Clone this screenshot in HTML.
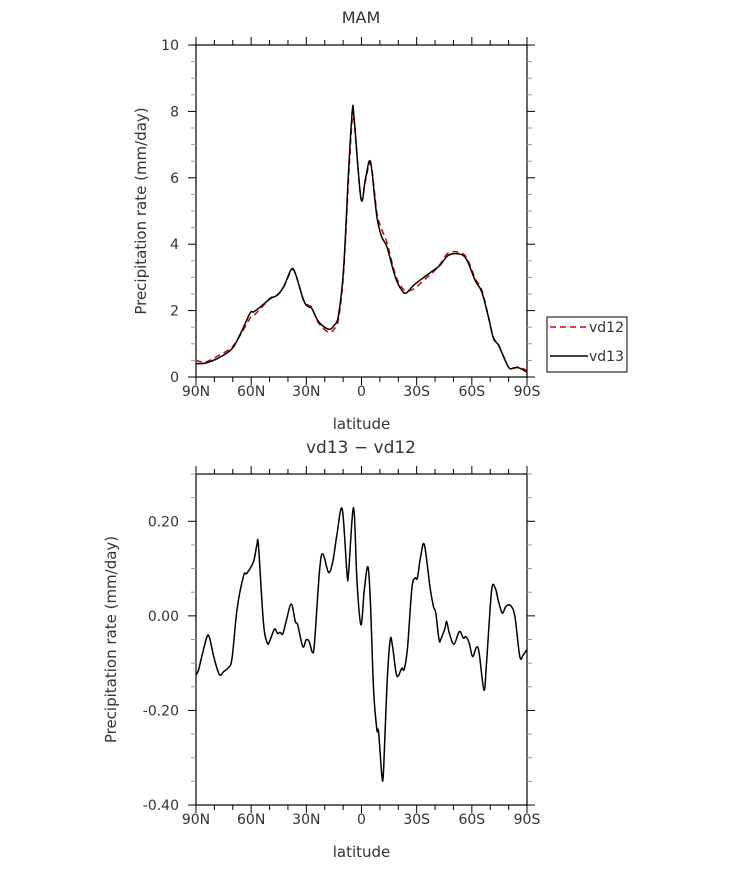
<!DOCTYPE html>
<html><head><meta charset="utf-8"><style>
body{margin:0;background:#fff;}
svg text{font-family:"DejaVu Sans","Liberation Sans",sans-serif;fill:#333;}
</style></head><body>
<svg id="c" width="733" height="869" xmlns="http://www.w3.org/2000/svg"></svg>
<script>
const latTop=[-90,-85,-78.6,-70.4,-65,-60.5,-58.7,-55,-49.6,-46,-42.4,-38.2,-36,-31.5,-28.8,-27,-23.3,-17.9,-14.8,-12.5,-9.8,-7,-5,-4,-0.3,2,4.2,5.6,8.4,11,13.8,18.3,21.9,24.3,28.3,34.6,39.1,42.8,47.3,53.6,57.3,61.8,65.4,69,71.8,74.5,79.9,82.6,85.3,90];
const vd13=[0.40,0.42,0.55,0.85,1.4,1.93,1.96,2.11,2.36,2.46,2.71,3.24,3.12,2.31,2.11,2.06,1.66,1.44,1.56,1.86,3.22,6.23,8.02,7.8,5.38,5.93,6.50,6.23,4.82,4.22,3.92,3.02,2.61,2.53,2.76,3.03,3.21,3.37,3.67,3.70,3.52,2.91,2.56,1.81,1.16,0.96,0.30,0.27,0.28,0.15];
const vd12=[0.50,0.45,0.62,0.90,1.35,1.78,1.85,2.05,2.38,2.45,2.70,3.20,3.13,2.32,2.16,2.09,1.62,1.35,1.45,1.75,3.10,6.00,7.80,7.70,5.40,5.88,6.40,6.27,4.95,4.45,4.05,3.10,2.70,2.60,2.65,2.95,3.17,3.40,3.74,3.75,3.58,2.98,2.62,1.83,1.18,0.98,0.30,0.26,0.30,0.20];
const latBot=[-90,-88.6,-86.7,-84,-82.6,-80.4,-77.7,-76.4,-75,-72.3,-70.4,-67.7,-64.1,-62.3,-58.7,-56.9,-56,-53.3,-51.1,-49.7,-47.3,-45.7,-44.3,-42.8,-41,-38.2,-36,-34.7,-31.9,-30.1,-28.5,-26.6,-25.5,-22.8,-21,-17.9,-15.6,-13.4,-10.5,-7.9,-7,-4.3,-2.5,-0.3,1.5,3.5,4.8,6.6,8.4,9.3,11.1,12,13.8,15.6,16.9,19.2,21.9,23.2,25,27.4,29.2,30.4,32.2,34.2,37.3,39.1,40.4,42.2,43.2,45.4,46.3,47.8,50.3,53.2,55.4,56.8,58.6,60.4,62.6,64,66.6,68,70.7,72.7,74.3,76.5,78.5,81,83.4,86.1,87.9,90];
const diff=[-0.125,-0.114,-0.083,-0.044,-0.047,-0.086,-0.121,-0.125,-0.118,-0.109,-0.090,0.013,0.085,0.090,0.115,0.150,0.147,-0.016,-0.058,-0.051,-0.028,-0.037,-0.035,-0.038,-0.012,0.025,-0.012,-0.019,-0.065,-0.051,-0.054,-0.078,-0.054,0.097,0.131,0.092,0.115,0.171,0.226,0.090,0.092,0.229,0.076,-0.019,0.055,0.104,0.034,-0.157,-0.241,-0.245,-0.339,-0.326,-0.150,-0.051,-0.065,-0.127,-0.111,-0.113,-0.068,0.059,0.080,0.080,0.126,0.150,0.059,0.020,0.006,-0.051,-0.049,-0.026,-0.012,-0.037,-0.060,-0.033,-0.047,-0.044,-0.058,-0.086,-0.066,-0.079,-0.157,-0.100,0.052,0.059,0.034,0.006,0.020,0.022,-0.001,-0.086,-0.083,-0.071];
const xTickVals=[-90,-60,-30,0,30,60,90];
const xTickLabels=["90N","60N","30N","0","30S","60S","90S"];
const topYTicks=[0,2,4,6,8,10];
const botYTicks=[-0.4,-0.2,0,0.2];
const botYLabels=["-0.40","-0.20","0.00","0.20"];

const svg=document.getElementById('c');
const NS="http://www.w3.org/2000/svg";
function mk(tag,attrs,parent){const e=document.createElementNS(NS,tag);for(const k in attrs)e.setAttribute(k,attrs[k]);(parent||svg).appendChild(e);return e;}
const L=196,R=527;
const xs=v=>L+(v+90)/180*(R-L);
function panel(top,bot,ymin,ymax,majors,labels,minorStep,name,titleX){
  const ys=v=>bot-(v-ymin)/(ymax-ymin)*(bot-top);
  const g=mk('g',{});
  
  
  mk('rect',{x:L,y:top,width:R-L,height:bot-top,fill:'none',stroke:'#000','stroke-width':1.2},g);
  for(let v=-90;v<=90;v+=10){const maj=v%30===0;const len=maj?8:5;const x=xs(v);
    mk('line',{x1:x,x2:x,y1:bot,y2:bot+len,stroke:'#000'},g);
    mk('line',{x1:x,x2:x,y1:top,y2:top-len,stroke:'#000'},g);}
  for(let v=ymin;v<=ymax+1e-9;v+=minorStep){const y=ys(v);const maj=majors.some(m=>Math.abs(m-v)<1e-6);const len=maj?8:5;
    mk('line',{x1:L,x2:L-len,y1:y,y2:y,stroke:maj?'#000':'#999'},g);
    mk('line',{x1:R,x2:R+len,y1:y,y2:y,stroke:maj?'#000':'#999'},g);}
  xTickVals.forEach((v,i)=>{const t=mk('text',{x:xs(v),y:bot+19,'text-anchor':'middle','font-size':14},g);t.textContent=xTickLabels[i];
    
    });
  majors.forEach((v,i)=>{const t=mk('text',{x:L-17,y:ys(v)+5,'text-anchor':'end','font-size':14},g);t.textContent=labels[i];
    
    });
  const xt=mk('text',{x:(L+R)/2,y:bot+52,'text-anchor':'middle','font-size':15},g);xt.textContent='latitude';
  
  
  const cy=(top+bot)/2;
  const yt=mk('text',{x:titleX,y:cy,'text-anchor':'middle','font-size':15,transform:`rotate(-90 ${titleX} ${cy})`},g);yt.textContent='Precipitation rate (mm/day)';
  
  
  return ys;
}
function line(lat,vals,ys,color,dash,name){
  const P=lat.map((v,i)=>[xs(v),ys(vals[i])]);
  let d='M'+P[0][0].toFixed(1)+','+P[0][1].toFixed(1);
  for(let i=0;i<P.length-1;i++){
    const p0=P[Math.max(0,i-1)],p1=P[i],p2=P[i+1],p3=P[Math.min(P.length-1,i+2)];
    const c1=[p1[0]+(p2[0]-p0[0])/6,p1[1]+(p2[1]-p0[1])/6];
    const c2=[p2[0]-(p3[0]-p1[0])/6,p2[1]-(p3[1]-p1[1])/6];
    d+='C'+c1[0].toFixed(1)+','+c1[1].toFixed(1)+' '+c2[0].toFixed(1)+','+c2[1].toFixed(1)+' '+p2[0].toFixed(1)+','+p2[1].toFixed(1);
  }
  const p=mk('path',{d:d,fill:'none',stroke:color,'stroke-width':1.5,'stroke-linejoin':'round','stroke-dasharray':dash||'none'});
  
  
}
const ys1=panel(45,377,0,10,topYTicks,topYTicks.map(String),0.5,'top',146);
line(latTop,vd12,ys1,'#d00000','6,4','line-vd12');
line(latTop,vd13,ys1,'#000','', 'line-vd13');
const ys2=panel(474,805,-0.4,0.3,botYTicks,botYLabels,0.05,'bottom',116);
line(latBot,diff,ys2,'#000','','line-diff');

const t1=mk('text',{x:361,y:23,'text-anchor':'middle','font-size':16});t1.textContent='MAM';


const t2=mk('text',{x:361,y:453,'text-anchor':'middle','font-size':17});t2.textContent='vd13 \u2212 vd12';



const lg=mk('g',{});


mk('rect',{x:547,y:317,width:80,height:55,fill:'#fff',stroke:'#000','stroke-width':1},lg);
mk('line',{x1:550,x2:588,y1:327,y2:327,stroke:'#d00000','stroke-width':1.5,'stroke-dasharray':'6,4'},lg);
mk('line',{x1:550,x2:588,y1:356,y2:356,stroke:'#000','stroke-width':1.5},lg);
const a=mk('text',{x:589,y:332,'font-size':14},lg);a.textContent='vd12';


const b=mk('text',{x:589,y:361,'font-size':14},lg);b.textContent='vd13';


</script>
</body></html>
